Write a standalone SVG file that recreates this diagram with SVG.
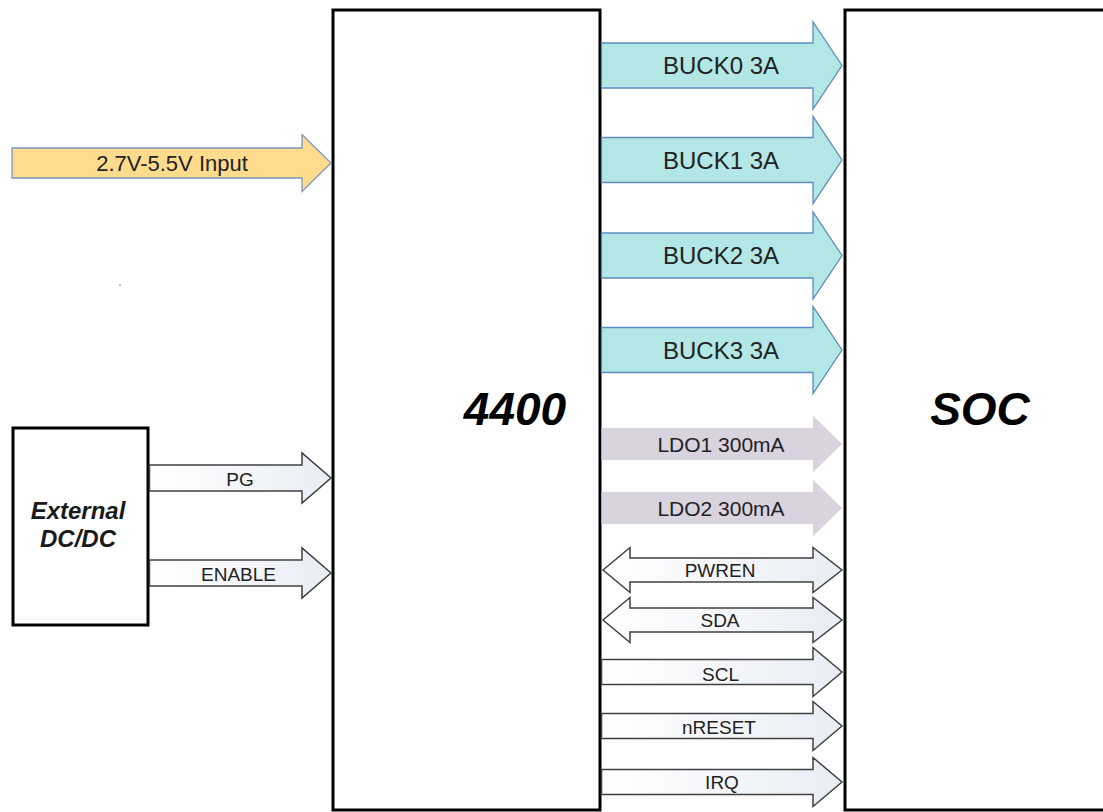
<svg xmlns="http://www.w3.org/2000/svg" width="1103" height="812" viewBox="0 0 1103 812">
<defs>
<linearGradient id="wg" x1="0" y1="0" x2="1" y2="0">
<stop offset="0" stop-color="#ffffff"/>
<stop offset="1" stop-color="#e9edf4"/>
</linearGradient>
</defs>
<style>
.box{fill:#ffffff;stroke:#000000;stroke-width:3}
.buck{fill:#b3e7e5;stroke:#5e8bc0;stroke-width:1.3}
.inp{fill:#ffdb8e;stroke:#7c97c5;stroke-width:1.3}
.ldo{fill:#d9d3df;stroke:none}
.sig{fill:url(#wg);stroke:#404040;stroke-width:1.5}
text{font-family:"Liberation Sans",Arial,sans-serif;fill:#222222;text-anchor:middle}
.big{font-size:46px;font-weight:bold;font-style:italic;fill:#000000}
.ext{font-size:24px;font-weight:bold;font-style:italic;fill:#1a1a1a}
.t24{font-size:24px}
.t22{font-size:22px}
.t21{font-size:21px}
.t18{font-size:19px}
</style>
<rect x="0" y="0" width="1103" height="812" fill="#ffffff"/>
<g id="node-4400">
<rect class="box" x="333" y="10" width="267" height="800"/>
<text class="big" x="515" y="425">4400</text>
</g>
<g id="node-soc">
<rect class="box" x="845" y="10" width="300" height="800"/>
<text class="big" x="980" y="425">SOC</text>
</g>
<g id="node-ext">
<rect class="box" x="13" y="428" width="135" height="197"/>
<text class="ext" x="78" y="519">External</text>
<text class="ext" x="78" y="547">DC/DC</text>
</g>
<circle cx="120" cy="285" r="0.8" fill="#666666"/>
<g id="connectors">
<path class="inp" d="M12 148 L302 148 L302 134.5 L331 163 L302 191.5 L302 178 L12 178 Z"/>
<path class="buck" d="M601.5 43 L813 43 L813 22 L842 65.5 L813 109 L813 88 L601.5 88 Z"/>
<path class="buck" d="M601.5 137.5 L813 137.5 L813 116.5 L842 160 L813 203.5 L813 182.5 L601.5 182.5 Z"/>
<path class="buck" d="M601.5 233 L813 233 L813 212 L842 255.5 L813 299 L813 278 L601.5 278 Z"/>
<path class="buck" d="M601.5 327.5 L813 327.5 L813 306.5 L842 350 L813 393.5 L813 372.5 L601.5 372.5 Z"/>
<path class="ldo" d="M601.5 428 L813 428 L813 415.5 L842 444 L813 472.5 L813 460 L601.5 460 Z"/>
<path class="ldo" d="M601.5 492 L813 492 L813 479.5 L842 508 L813 536.5 L813 524 L601.5 524 Z"/>
<path class="sig" d="M149.5 465 L302 465 L302 453 L331 478 L302 503 L302 491 L149.5 491 Z"/>
<path class="sig" d="M149.5 560 L302 560 L302 548 L331 573 L302 598 L302 586 L149.5 586 Z"/>
<path class="sig" d="M603 570 L630 547.5 L630 558 L813 558 L813 547.5 L842 570 L813 592.5 L813 582 L630 582 L630 592.5 Z"/>
<path class="sig" d="M603 620 L630 597.5 L630 608 L813 608 L813 597.5 L842 620 L813 642.5 L813 632 L630 632 L630 642.5 Z"/>
<path class="sig" d="M601.5 659.5 L813 659.5 L813 647.5 L842 672 L813 696.5 L813 684.5 L601.5 684.5 Z"/>
<path class="sig" d="M601.5 713.5 L813 713.5 L813 701.5 L842 726 L813 750.5 L813 738.5 L601.5 738.5 Z"/>
<path class="sig" d="M601.5 769.5 L813 769.5 L813 757.5 L842 782 L813 806.5 L813 794.5 L601.5 794.5 Z"/>
<text class="t22" x="172" y="171">2.7V-5.5V Input</text>
<text class="t24" x="721" y="74">BUCK0 3A</text>
<text class="t24" x="721" y="168.5">BUCK1 3A</text>
<text class="t24" x="721" y="264">BUCK2 3A</text>
<text class="t24" x="721" y="358.5">BUCK3 3A</text>
<text class="t21" x="721" y="451.5">LDO1 300mA</text>
<text class="t21" x="721" y="515.5">LDO2 300mA</text>
<text class="t18" x="240" y="486">PG</text>
<text class="t18" x="238.5" y="581">ENABLE</text>
<text class="t18" x="720" y="577">PWREN</text>
<text class="t18" x="720" y="627">SDA</text>
<text class="t18" x="720.5" y="680.5">SCL</text>
<text class="t18" x="719" y="734">nRESET</text>
<text class="t18" x="722" y="789">IRQ</text>
</g>
</svg>
